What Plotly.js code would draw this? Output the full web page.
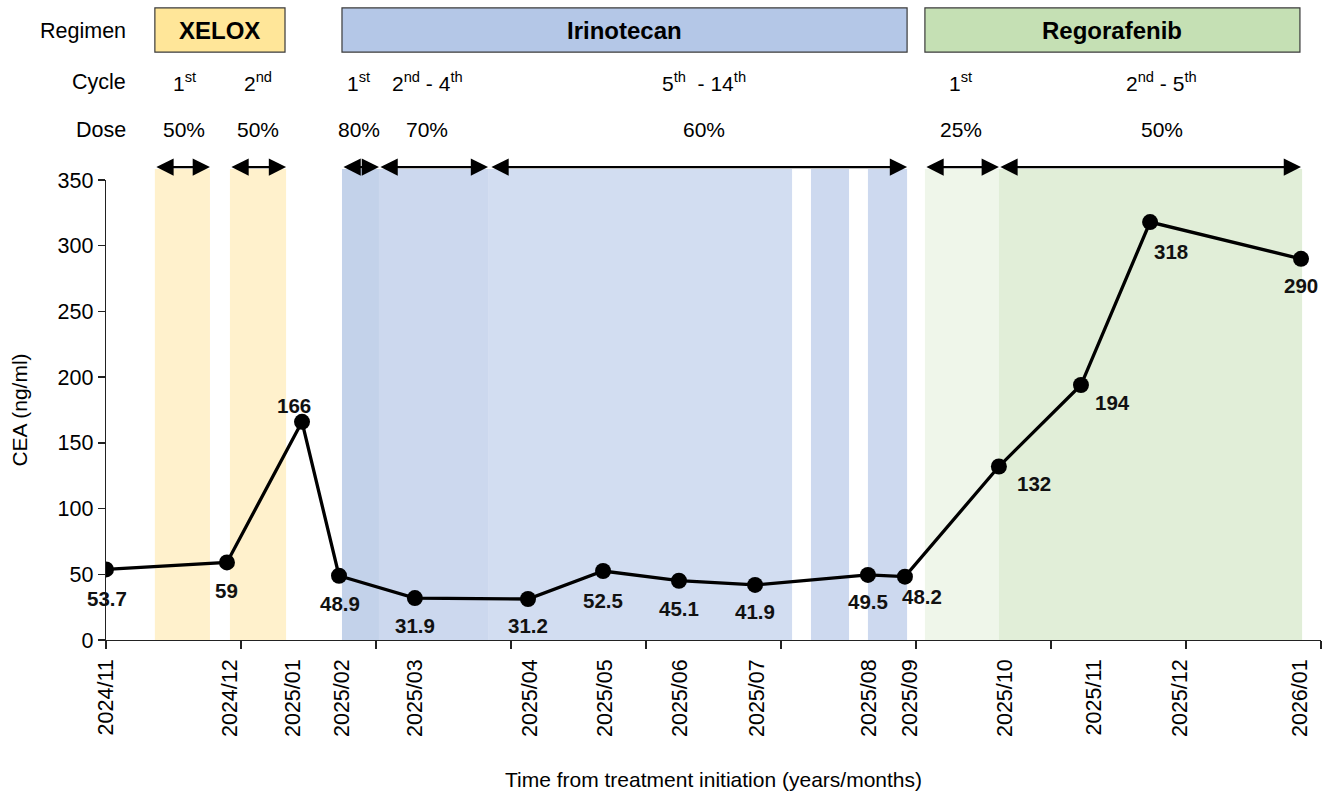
<!DOCTYPE html>
<html><head><meta charset="utf-8">
<script src="https://cdn.plot.ly/plotly-3.0.1.min.js"></script>
<style>html,body{margin:0;padding:0;background:#fff}</style>
</head><body><div id="chart" style="width:1330px;height:792px"></div>
<script>
// ---- data ----
const pointDays = [0, 44.8, 72.6, 86.3, 114.4, 156.3, 184.1, 212.2, 240.4, 282.2, 295.9, 330.7, 361.1, 386.7, 442.6];
const ceaValues = [53.7, 59, 166, 48.9, 31.9, 31.2, 52.5, 45.1, 41.9, 49.5, 48.2, 132, 194, 318, 290];
const ceaLabels = ['53.7', '59', '166', '48.9', '31.9', '31.2', '52.5', '45.1', '41.9', '49.5', '48.2', '132', '194', '318', '290'];

const dateLabels = ['2024/11', '2024/12', '2025/01', '2025/02', '2025/03', '2025/04', '2025/05', '2025/06', '2025/07', '2025/08', '2025/09', '2025/10', '2025/11', '2025/12', '2026/01'];
const dateLabelDays = [0, 45.9, 69.3, 87.4, 114.4, 157, 184.8, 212.6, 241, 282.6, 297.8, 333, 366, 397.8, 442.2];

const regimens = ['XELOX', 'Irinotecan', 'Regorafenib'];
const regimenStart = [18.1, 87.4, 303.3];
const regimenEnd = [66.3, 296.7, 442.2];

const cycleLabels = ['1<sup>st</sup>', '2<sup>nd</sup>', '1<sup>st</sup>', '2<sup>nd</sup> - 4<sup>th</sup>', '5<sup>th</sup>  - 14<sup>th</sup>', '1<sup>st</sup>', '2<sup>nd</sup> - 5<sup>th</sup>'];
const doseLabels = ['50%', '50%', '80%', '70%', '60%', '25%', '50%'];
const cycleStart = [18.1, 45.9, 87.4, 101.1, 142.2, 303.3, 330.7];
const cycleEnd = [38.5, 66.7, 101.1, 141.5, 296.7, 330.7, 442.6];
const cycleLabelDays = [29, 56.3, 93.6, 119, 221.5, 316.5, 391];

const bandStart = [18.1, 45.9, 87.4, 101.1, 141.5, 261.1, 282.2, 303.3, 330.7];
const bandEnd = [38.5, 66.7, 101.1, 141.5, 254.1, 275.2, 296.7, 330.7, 443];

// ---- styles ----
const FONT = 'Liberation Sans, Arial, Helvetica, sans-serif';
const regimenColors = ['#FFE699', '#B4C7E7', '#C5E0B4'];
const bandColors = ['#FFF1CC', '#FFF1CC', '#C3D2EA', '#CCD8EE', '#D2DDF1', '#CDD9EF', '#CDD9EF', '#EFF6EA', '#E1EED8'];
const labelShift = [[1, -29], [0, -28], [-8, 16], [1, -28], [0, -27], [0, -27], [0, -29], [0, -28], [0, -27], [0, -27], [17, -20], [35, -17], [32, -17], [21, -29], [0, -27]];

const rowY = {regimen: 1.324, cycle: 1.213, dose: 1.109, arrow: 1.028};
const bandTop = 1.024;

const shapes = [];
bandStart.forEach((s, i) => shapes.push({
  type: 'rect', xref: 'x', yref: 'paper', x0: s, x1: bandEnd[i], y0: 0, y1: bandTop,
  fillcolor: bandColors[i], line: {width: 0}, layer: 'below'
}));
regimens.forEach((r, i) => shapes.push({
  type: 'rect', xref: 'x', yref: 'paper', x0: regimenStart[i], x1: regimenEnd[i], y0: 1.278, y1: 1.374,
  fillcolor: regimenColors[i], line: {color: '#3a3a3a', width: 1.2}, layer: 'above'
}));

const annotations = [];
// row headings
[['Regimen', rowY.regimen], ['Cycle', rowY.cycle], ['Dose', rowY.dose]].forEach(([t, y]) => annotations.push({
  text: t, xref: 'paper', yref: 'paper', x: 0.018, y: y, xanchor: 'right', yanchor: 'middle',
  showarrow: false, font: {family: FONT, size: 21.5, color: '#000'}
}));
regimens.forEach((r, i) => annotations.push({
  text: '<b>' + r + '</b>', xref: 'x', yref: 'paper', x: (regimenStart[i] + regimenEnd[i]) / 2, y: rowY.regimen,
  xanchor: 'center', yanchor: 'middle', showarrow: false, font: {family: FONT, size: 24, color: '#000'}
}));
cycleLabels.forEach((c, i) => {
  annotations.push({
    text: c, xref: 'x', yref: 'paper', x: cycleLabelDays[i], y: rowY.cycle, xanchor: 'center', yanchor: 'middle',
    showarrow: false, font: {family: FONT, size: 21, color: '#000'}
  });
  annotations.push({
    text: doseLabels[i], xref: 'x', yref: 'paper', x: cycleLabelDays[i], y: rowY.dose, xanchor: 'center', yanchor: 'middle',
    showarrow: false, font: {family: FONT, size: 21, color: '#000'}
  });
  annotations.push({
    text: '', xref: 'x', yref: 'paper', x: cycleEnd[i], y: rowY.arrow, axref: 'x', ax: cycleStart[i], ayref: 'pixel', ay: 0,
    showarrow: true, arrowside: 'end+start', arrowhead: 2, arrowsize: 1.5, arrowwidth: 2.3, arrowcolor: '#000',
    standoff: 0, startstandoff: 0
  });
});
ceaLabels.forEach((t, i) => annotations.push({
  text: '<b>' + t + '</b>', xref: 'x', yref: 'y', x: pointDays[i], y: ceaValues[i],
  xshift: labelShift[i][0], yshift: labelShift[i][1], showarrow: false, xanchor: 'center', yanchor: 'middle',
  font: {family: FONT, size: 20.5, color: '#111'}
}));

const traces = [
  {
    x: pointDays, y: ceaValues, xaxis: 'x', yaxis: 'y', type: 'scatter', mode: 'lines+markers',
    line: {color: '#000', width: 3.3}, marker: {color: '#000', size: 16}, hoverinfo: 'skip', showlegend: false
  },
  {
    x: dateLabelDays, y: dateLabelDays.map(() => null), xaxis: 'x2', yaxis: 'y', type: 'scatter', mode: 'markers',
    hoverinfo: 'skip', showlegend: false
  }
];

const tickDays = [0, 50, 100, 150, 200, 250, 300, 350, 400, 450];

const layout = {
  width: 1330, height: 792,
  margin: {l: 106, r: 9, t: 180, b: 152},
  paper_bgcolor: '#fff', plot_bgcolor: 'rgba(0,0,0,0)',
  font: {family: FONT, color: '#000'},
  showlegend: false,
  xaxis: {
    range: [0, 450], tickmode: 'array', tickvals: tickDays, showticklabels: false,
    ticks: 'outside', ticklen: 8, tickwidth: 1.3, tickcolor: '#222',
    showline: true, linecolor: '#222', linewidth: 1.3, showgrid: false, zeroline: false, fixedrange: true
  },
  xaxis2: {
    overlaying: 'x', side: 'bottom', anchor: 'y', range: [0, 450], tickmode: 'array',
    tickvals: dateLabelDays, ticktext: dateLabels, tickangle: -90, ticks: '', showline: false,
    showgrid: false, zeroline: false, ticklabelstandoff: 14, automargin: false,
    tickfont: {family: FONT, size: 21.5, color: '#000'},
    title: {text: 'Time from treatment initiation (years/months)', font: {family: FONT, size: 21, color: '#000'}, standoff: 36}
  },
  yaxis: {
    range: [0, 350], tickmode: 'array', tickvals: [0, 50, 100, 150, 200, 250, 300, 350],
    ticks: 'outside', ticklen: 7, tickwidth: 1.3, tickcolor: '#222',
    showline: true, linecolor: '#222', linewidth: 1.3, showgrid: false, zeroline: false, automargin: false,
    tickfont: {family: FONT, size: 21.5, color: '#000'},
    title: {text: 'CEA (ng/ml)', font: {family: FONT, size: 21, color: '#000'}, standoff: 24}
  },
  shapes: shapes,
  annotations: annotations
};

Plotly.newPlot('chart', traces, layout, {displayModeBar: false, staticPlot: true});
</script>
</body></html>
